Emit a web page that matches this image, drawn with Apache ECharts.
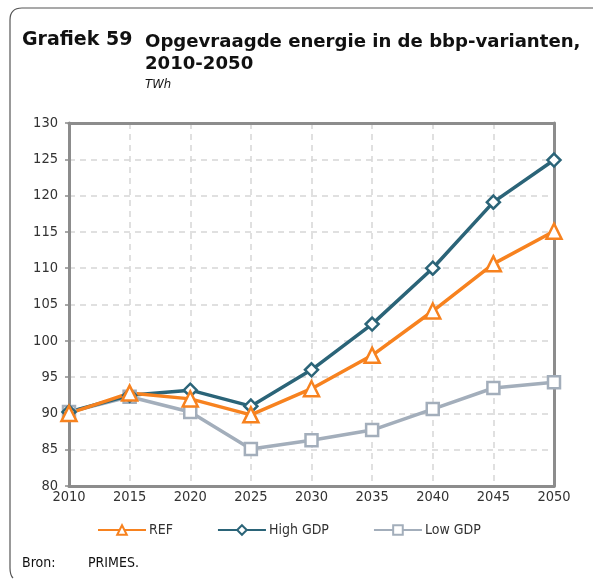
<!DOCTYPE html>
<html>
<head>
<meta charset="utf-8">
<script src="https://cdn.jsdelivr.net/npm/echarts@6/dist/echarts.min.js"></script>
<style>
  html, body { margin: 0; padding: 0; background: #fff; }
  #chart { width: 595px; height: 579px; }
</style>
</head>
<body>
<div id="chart"></div>
<script>
// Years on the horizontal axis
const years = ['2010', '2015', '2020', '2025', '2030', '2035', '2040', '2045', '2050'];

// Requested energy (TWh) per GDP variant
const refValues     = [90.0, 92.8, 92.0, 89.8, 93.4, 98.0, 104.1, 110.6, 115.1];
const highGdpValues = [90.2, 92.5, 93.2, 91.0, 96.0, 102.3, 110.0, 119.1, 124.9];
const lowGdpValues  = [90.2, 92.3, 90.2, 85.1, 86.3, 87.7, 90.6, 93.5, 94.3];

const seriesNames = ['REF', 'High GDP', 'Low GDP'];

const yMin = 80, yMax = 130, yStep = 5;

const font = '"DejaVu Sans", Verdana, sans-serif';
const condFont = '"DejaVu Sans Condensed", "DejaVu Sans", sans-serif';
const textColor = '#333333';
const frameColor = '#555555';
const axisColor = '#8c8c8c';

const chart = echarts.init(document.getElementById('chart'), null, { renderer: 'canvas' });

function lineSeries(name, data, color, symbol, size) {
  return {
    name: name,
    type: 'line',
    data: data,
    symbol: symbol,
    symbolSize: size,
    showAllSymbol: true,
    lineStyle: { color: color, width: 3.5 },
    itemStyle: { color: '#ffffff', borderColor: color, borderWidth: 2.5 },
    emphasis: { disabled: true },
    z: 3
  };
}

const dashed = { color: '#d6d6d6', width: 1.5, type: [6, 5] };

chart.setOption({
  animation: false,
  backgroundColor: '#ffffff',
  textStyle: { fontFamily: condFont },
  graphic: [
    // frame: top edge and left edge with rounded corners
    {
      type: 'polyline',
      shape: { points: [[593, 8], [22, 8]] },
      style: { fill: null, stroke: frameColor, lineWidth: 1.2 }
    },
    {
      type: 'bezierCurve',
      shape: { x1: 22, y1: 8, cpx1: 10, cpy1: 8, x2: 10, y2: 20 },
      style: { fill: null, stroke: frameColor, lineWidth: 1.2 }
    },
    {
      type: 'polyline',
      shape: { points: [[10, 20], [10, 568]] },
      style: { fill: null, stroke: frameColor, lineWidth: 1.2 }
    },
    {
      type: 'bezierCurve',
      shape: { x1: 10, y1: 568, cpx1: 10, cpy1: 575, x2: 13, y2: 578 },
      style: { fill: null, stroke: frameColor, lineWidth: 1.2 }
    },
    {
      type: 'text', left: 22, top: 31,
      style: { text: 'Grafiek 59', font: 'bold 19px ' + font, fill: '#111111' }
    },
    {
      type: 'text', left: 145, top: 31,
      style: { text: 'Opgevraagde energie in de bbp-varianten,\n2010-2050', font: 'bold 18.1px ' + font, fill: '#111111', lineHeight: 22 }
    },
    {
      type: 'text', left: 145, top: 78,
      style: { text: 'TWh', font: 'italic 13px ' + condFont, fill: '#111111' }
    },
    {
      type: 'text', left: 22, top: 556,
      style: { text: 'Bron:', font: '14px ' + condFont, fill: '#111111' }
    },
    {
      type: 'text', left: 88, top: 556,
      style: { text: 'PRIMES.', font: '14px ' + condFont, fill: '#111111' }
    }
  ],
  grid: {
    left: 69, right: 41, top: 123, bottom: 93,
    show: false
  },
  legend: {
    data: seriesNames,
    bottom: 42,
    left: 97,
    padding: 0,
    itemWidth: 48,
    itemHeight: 12,
    itemGap: 44,
    textStyle: { fontFamily: condFont, fontSize: 14, color: textColor, padding: [0, 0, 0, -2] }
  },
  xAxis: [
    {
      type: 'category',
      data: years,
      boundaryGap: false,
      axisLine: { show: true, lineStyle: { color: axisColor, width: 3 } },
      axisTick: { show: false },
      axisLabel: { fontFamily: condFont, fontSize: 14.5, color: textColor, margin: 4 },
      splitLine: { show: true, lineStyle: dashed }
    },
    {
      // top edge of the plot box
      type: 'category',
      data: years,
      boundaryGap: false,
      position: 'top',
      z: 1,
      axisLine: { show: true, lineStyle: { color: axisColor, width: 3 } },
      axisTick: { show: false },
      axisLabel: { show: false },
      splitLine: { show: false }
    }
  ],
  yAxis: [
    {
      type: 'value',
      min: yMin, max: yMax, interval: yStep,
      axisLine: { show: true, lineStyle: { color: axisColor, width: 3 } },
      axisTick: { show: true, length: 4, lineStyle: { color: axisColor, width: 1.5 } },
      axisLabel: { fontFamily: condFont, fontSize: 14.5, color: textColor, margin: 11 },
      splitLine: { show: true, lineStyle: dashed }
    },
    {
      // right edge of the plot box
      type: 'value',
      min: yMin, max: yMax, interval: yStep,
      position: 'right',
      z: 1,
      axisLine: { show: true, lineStyle: { color: axisColor, width: 3 } },
      axisTick: { show: false },
      axisLabel: { show: false },
      splitLine: { show: false }
    }
  ],
  series: [
    lineSeries('Low GDP', lowGdpValues, '#a3aebb', 'rect', 12),
    lineSeries('High GDP', highGdpValues, '#2b6478', 'diamond', 13),
    lineSeries('REF', refValues, '#f7821f', 'triangle', 15)
  ]
});
</script>
</body>
</html>
